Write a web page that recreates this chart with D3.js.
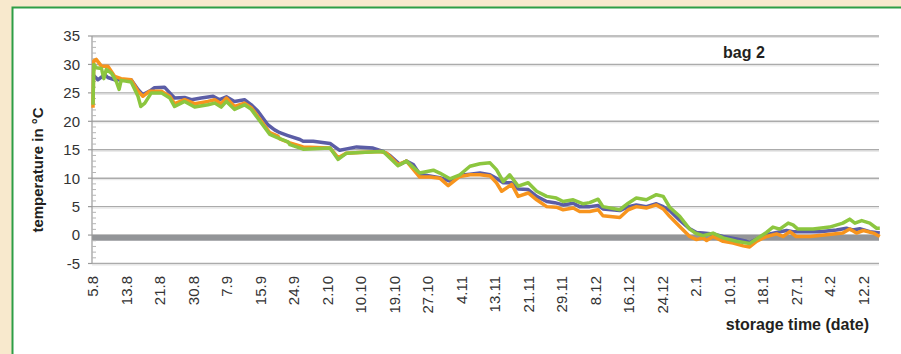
<!DOCTYPE html>
<html>
<head>
<meta charset="utf-8">
<script src="https://cdn.jsdelivr.net/npm/d3@7"></script>
<style>
  body { margin: 0; background: #f8e9cd; }
  svg { display: block; }
  text { font-family: "Liberation Sans Narrow", "Arial Narrow", "Liberation Sans", Arial, sans-serif; }
</style>
</head>
<body>
<div id="chart"></div>
<script>
// storage time in days after 5.8, temperature in °C
const blueSeries = [[0,28.2],[1.2,27.3],[2.9,28.2],[3.7,27.7],[5.4,27.3],[9.5,27.3],[11.2,25.6],[12.4,24.7],[14.1,25.3],[15.3,25.9],[17.8,26.0],[19.1,25.0],[20.3,24.1],[22.8,24.2],[24.5,23.8],[26.9,24.1],[29.9,24.4],[31.5,23.8],[33.2,24.3],[35.2,23.5],[37.7,23.8],[39.4,22.9],[41.0,21.8],[43.5,19.4],[45.2,18.5],[46.5,18.0],[48.5,17.5],[51.5,16.8],[52.3,16.5],[54.8,16.5],[59.0,16.1],[61.4,14.9],[63.1,15.15],[65.6,15.5],[69.7,15.3],[72.2,14.7],[73.9,14.0],[76.4,12.4],[78.0,13.0],[79.7,12.4],[81.3,10.7],[83.8,10.4],[86.3,10.1],[88.8,9.5],[91.3,10.5],[93.8,10.7],[96.3,10.9],[98.8,10.6],[100.4,10.0],[102.1,9.2],[104.2,9.2],[105.8,8.1],[108.3,8.0],[110.4,6.8],[112.9,5.9],[114.9,5.7],[117.0,5.3],[119.5,5.6],[121.1,5.0],[123.6,5.0],[125.7,5.2],[126.9,4.6],[131.1,4.3],[133.2,5.0],[135.2,5.3],[137.7,5.0],[140.2,5.5],[141.9,5.0],[143.5,4.3],[146.0,2.6],[148.5,1.1],[150.2,0.46],[151.8,0.35],[154.3,0.2],[156.8,-0.25],[160.1,-0.7],[162.6,-1.1],[163.4,-1.3],[165.1,-0.7],[167.6,0.05],[170.1,0.46],[172.6,0.8],[174.2,0.6],[176.7,0.6],[180.8,0.6],[185.0,0.9],[187.5,1.2],[189.1,0.9],[190.8,1.1],[193.3,0.6],[195.8,0.35]];

const orangeSeries = [[0,22.4],[0.2,30.6],[0.8,30.9],[2.1,29.7],[3.7,29.7],[5.4,27.9],[7.0,27.5],[9.5,27.3],[11.2,25.3],[12.4,24.4],[14.1,25.3],[17.0,25.3],[19.1,24.4],[20.3,23.1],[22.8,23.8],[25.3,23.1],[28.6,23.5],[30.3,23.8],[31.9,23.1],[33.2,24.1],[35.2,22.6],[37.7,23.2],[39.4,22.4],[41.9,20.0],[44.0,18.0],[46.0,17.4],[46.5,16.9],[49.0,16.2],[52.3,15.5],[59.0,15.3],[61.0,13.6],[63.1,14.4],[66.4,14.5],[71.4,14.7],[73.1,14.4],[75.9,12.4],[78.0,13.0],[81.3,10.2],[83.8,10.2],[86.3,10.0],[88.4,8.7],[91.3,10.3],[93.8,10.6],[96.3,10.6],[98.8,10.4],[100.4,9.2],[101.7,7.7],[104.2,8.9],[105.8,6.8],[108.3,7.4],[110.4,6.2],[112.9,5.0],[115.3,4.9],[117.0,4.45],[119.5,4.75],[121.1,4.15],[123.6,4.15],[125.7,4.45],[126.9,3.4],[131.1,3.1],[133.2,4.45],[135.2,5.0],[137.7,4.75],[140.2,5.3],[141.9,4.6],[143.5,3.3],[146.0,1.5],[148.5,-0.25],[150.2,-0.8],[151.8,-0.5],[152.7,-0.95],[154.3,-0.25],[156.8,-1.1],[159.3,-1.4],[161.8,-1.9],[163.4,-2.1],[165.1,-1.1],[167.6,-0.25],[170.1,0.2],[171.7,-0.25],[173.4,0.6],[175.0,-0.25],[178.4,-0.25],[182.5,0.05],[186.6,0.35],[188.3,1.05],[190.0,0.35],[191.7,0.8],[194.2,0.35],[195.8,-0.25]];

const greenSeries = [[0,22.9],[0.2,30.0],[0.8,29.4],[2.1,29.3],[2.7,27.5],[3.3,29.1],[4.55,28.5],[5.8,27.0],[6.5,25.6],[7.0,27.2],[9.5,26.9],[11.2,24.4],[11.9,22.6],[12.9,23.2],[14.5,25.0],[17.0,25.0],[19.1,24.1],[20.3,22.6],[22.8,23.5],[25.3,22.5],[28.6,22.9],[30.3,23.2],[31.9,22.5],[33.2,23.5],[35.2,22.1],[37.7,22.9],[39.4,22.1],[41.9,19.7],[44.0,17.7],[46.0,17.1],[48.5,16.4],[49.0,15.9],[52.3,15.1],[59.0,15.3],[61.0,13.3],[63.1,14.4],[66.4,14.5],[72.2,14.7],[75.9,12.2],[78.0,13.0],[81.3,10.9],[84.7,11.4],[86.3,10.9],[88.8,9.9],[91.3,10.6],[93.8,12.1],[96.3,12.55],[98.8,12.7],[100.4,11.5],[102.1,9.4],[103.7,10.6],[105.8,8.6],[108.3,9.2],[110.4,7.7],[112.9,6.8],[115.3,6.5],[117.0,5.9],[119.5,6.2],[122.0,5.5],[123.6,5.7],[125.7,6.3],[126.9,5.0],[131.1,4.45],[133.2,5.6],[135.2,6.5],[137.7,6.2],[140.2,7.1],[141.9,6.8],[143.5,4.9],[146.0,3.3],[148.5,1.05],[149.9,0.35],[151.8,-0.1],[154.3,0.35],[156.8,-0.5],[160.1,-1.1],[163.4,-1.5],[165.1,-0.7],[167.6,0.46],[169.2,1.4],[170.9,1.05],[173.0,2.1],[174.2,1.8],[175.4,1.05],[179.2,1.05],[183.3,1.4],[186.6,2.1],[188.3,2.8],[189.6,2.1],[191.3,2.55],[193.3,2.1],[195.0,1.2],[195.8,1.2]];

// date labels, one every 200 hours of logging
const dateLabels = ["5.8","13.8","21.8","30.8","7.9","15.9","24.9","2.10","10.10","19.10","27.10","4.11","13.11","21.11","29.11","8.12","16.12","24.12","2.1","10.1","18.1","27.1","4.2","12.2"];
const yTicks = [-5, 0, 5, 10, 15, 20, 25, 30, 35];

const width = 901, height = 354;
const plotLeft = 92, plotRight = 879, plotTop = 36, plotBottom = 263.5;

const svg = d3.select("#chart").append("svg")
  .attr("width", width)
  .attr("height", height);

// white panel with green frame
svg.append("rect")
  .attr("x", 12.5).attr("y", 7.5)
  .attr("width", width + 10).attr("height", height + 10)
  .attr("fill", "#fff")
  .attr("stroke", "#2e9e46")
  .attr("stroke-width", 2);

const x = d3.scaleLinear().domain([0, 195.6]).range([plotLeft + 1, plotRight]);
const y = d3.scaleLinear().domain([-5, 35]).range([plotBottom, plotTop]);

// gridlines
svg.append("g")
  .selectAll("line")
  .data(yTicks)
  .join("line")
  .attr("x1", plotLeft).attr("x2", plotRight)
  .attr("y1", d => y(d)).attr("y2", d => y(d))
  .attr("stroke", "#ababab")
  .attr("stroke-width", 1.4);
svg.append("g")
  .selectAll("line")
  .data(yTicks)
  .join("line")
  .attr("x1", plotLeft).attr("x2", plotRight)
  .attr("y1", d => y(d) + 1.5).attr("y2", d => y(d) + 1.5)
  .attr("stroke", "#e4e4e4")
  .attr("stroke-width", 1);

// thick zero band
svg.append("line")
  .attr("x1", plotLeft).attr("x2", plotRight)
  .attr("y1", y(-0.5)).attr("y2", y(-0.5))
  .attr("stroke", "#939598")
  .attr("stroke-width", 5.7);

// y axis line, major and minor ticks
svg.append("line")
  .attr("x1", plotLeft).attr("x2", plotLeft)
  .attr("y1", plotTop).attr("y2", plotBottom)
  .attr("stroke", "#9a9a9a").attr("stroke-width", 1.2);
svg.append("g")
  .selectAll("line")
  .data(yTicks)
  .join("line")
  .attr("x1", plotLeft - 4).attr("x2", plotLeft)
  .attr("y1", d => y(d)).attr("y2", d => y(d))
  .attr("stroke", "#9a9a9a").attr("stroke-width", 1.2);
svg.append("g")
  .selectAll("line")
  .data(d3.range(-5, 35).filter(d => d % 5 !== 0))
  .join("line")
  .attr("x1", plotLeft).attr("x2", plotLeft + 4)
  .attr("y1", d => y(d)).attr("y2", d => y(d))
  .attr("stroke", "#b5b5b5").attr("stroke-width", 1);

svg.append("g")
  .selectAll("text")
  .data(yTicks)
  .join("text")
  .attr("x", 80)
  .attr("y", d => y(d))
  .attr("dy", "0.36em")
  .attr("text-anchor", "end")
  .attr("font-size", 15)
  .attr("fill", "#333")
  .text(d => d);

// x labels (rotated)
svg.append("g")
  .selectAll("text")
  .data(dateLabels)
  .join("text")
  .attr("transform", (d, i) => `translate(${x(i * 200 / 24)},276) rotate(-90)`)
  .attr("dy", "0.36em")
  .attr("text-anchor", "end")
  .attr("font-size", 15)
  .attr("fill", "#333")
  .text(d => d);

// series
const line = d3.line()
  .x(d => x(d[0]))
  .y(d => y(d[1]));

const series = [
  { data: blueSeries, color: "#5b5da6" },
  { data: orangeSeries, color: "#f7941d" },
  { data: greenSeries, color: "#8cc63f" }
];
svg.append("g")
  .selectAll("path")
  .data(series)
  .join("path")
  .attr("d", d => line(d.data))
  .attr("fill", "none")
  .attr("stroke", d => d.color)
  .attr("stroke-width", 3.5)
  .attr("stroke-linejoin", "round");

// titles
svg.append("text")
  .attr("transform", "translate(43,170) rotate(-90)")
  .attr("text-anchor", "middle")
  .attr("font-size", 15)
  .attr("font-weight", "bold")
  .attr("fill", "#231f20")
  .text("temperature in °C");

svg.append("text")
  .attr("x", 744).attr("y", 57.5)
  .attr("text-anchor", "middle")
  .attr("font-size", 16)
  .attr("font-weight", "bold")
  .attr("fill", "#231f20")
  .text("bag 2");

svg.append("text")
  .attr("x", 869).attr("y", 329.5)
  .attr("text-anchor", "end")
  .attr("font-size", 16)
  .attr("font-weight", "bold")
  .attr("fill", "#231f20")
  .text("storage time (date)");
</script>
</body>
</html>
